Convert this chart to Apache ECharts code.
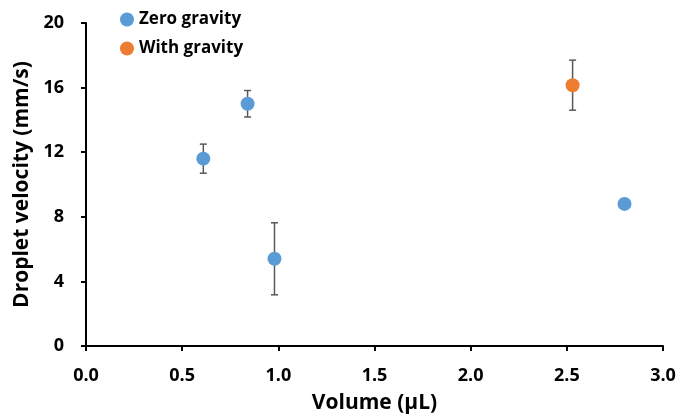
<!DOCTYPE html>
<html>
<head>
<meta charset="utf-8">
<script src="https://cdn.jsdelivr.net/npm/echarts@6/dist/echarts.min.js"></script>
<style>
  html, body { margin: 0; padding: 0; background: #fff; }
  #chart { width: 681px; height: 415px; }
</style>
</head>
<body>
<div id="chart"></div>
<script>
// zero gravity: volume (uL), velocity (mm/s), error
const zeroVolume = [0.61, 0.84, 0.98, 2.80]
const zeroVelocity = [11.6, 15.0, 5.4, 8.8]
const zeroError = [0.9, 0.82, 2.23, 0]

// with gravity
const gravVolume = [2.53]
const gravVelocity = [16.15]
const gravError = [1.55]

const xTicks = [0, 0.5, 1.0, 1.5, 2.0, 2.5, 3.0]
const yTicks = [0, 4, 8, 12, 16, 20]

const font = 'Open Sans'
const blue = '#5B9BD5'
const orange = '#ED7D31'

const toPoints = (xs, ys) => xs.map((x, i) => [x, ys[i]])
const toBars = (xs, ys, es) => xs.map((x, i) => [x, ys[i] - es[i], ys[i] + es[i]]).filter(d => d[2] > d[1])

const errorBar = (params, api) => {
  const lo = api.coord([api.value(0), api.value(1)])
  const hi = api.coord([api.value(0), api.value(2)])
  const cap = 3.5
  const style = { stroke: '#595959', lineWidth: 1.5 }
  return {
    type: 'group',
    children: [
      { type: 'line', shape: { x1: lo[0], y1: lo[1], x2: hi[0], y2: hi[1] }, style },
      { type: 'line', shape: { x1: lo[0] - cap, y1: lo[1], x2: lo[0] + cap, y2: lo[1] }, style },
      { type: 'line', shape: { x1: hi[0] - cap, y1: hi[1], x2: hi[0] + cap, y2: hi[1] }, style }
    ]
  }
}

const chart = echarts.init(document.getElementById('chart'))
chart.setOption({
  backgroundColor: '#fff',
  animation: false,
  grid: { left: 86, right: 18, top: 23, bottom: 69, outerBoundsMode: 'none', containLabel: false },
  legend: {
    orient: 'vertical',
    left: 120,
    top: 11,
    padding: 0,
    itemWidth: 14,
    itemHeight: 14,
    itemGap: 12,
    icon: 'circle',
    textStyle: { fontFamily: font, fontWeight: 'bold', fontSize: 17, color: '#000', padding: [0, 0, 0, 0] },
    data: ['Zero gravity', 'With gravity']
  },
  xAxis: {
    type: 'value',
    min: 0,
    max: 3,
    interval: 0.5,
    name: 'Volume (µL)',
    nameLocation: 'middle',
    nameGap: 47,
    nameTextStyle: { fontFamily: font, fontWeight: 'bold', fontSize: 21, color: '#000' },
    axisLine: { show: true, lineStyle: { color: '#000', width: 2 } },
    axisTick: { show: true, inside: false, length: 5, lineStyle: { color: '#000', width: 2 } },
    axisLabel: {
      margin: 21,
      fontFamily: font, fontWeight: 'bold', fontSize: 18, color: '#000',
      formatter: v => xTicks.includes(v) ? v.toFixed(1) : ''
    },
    splitLine: { show: false }
  },
  yAxis: {
    type: 'value',
    min: 0,
    max: 20,
    interval: 4,
    name: 'Droplet velocity (mm/s)',
    nameLocation: 'middle',
    nameGap: 52,
    nameTextStyle: { fontFamily: font, fontWeight: 'bold', fontSize: 21, color: '#000' },
    axisLine: { show: true, lineStyle: { color: '#000', width: 2 } },
    axisTick: { show: true, inside: false, length: 5, lineStyle: { color: '#000', width: 2 } },
    axisLabel: {
      margin: 22,
      fontFamily: font, fontWeight: 'bold', fontSize: 18, color: '#000',
      formatter: v => yTicks.includes(v) ? String(v) : ''
    },
    splitLine: { show: false }
  },
  series: [
    {
      name: 'Zero gravity',
      type: 'scatter',
      symbolSize: 14,
      itemStyle: { color: blue, opacity: 1 },
      z: 3,
      data: toPoints(zeroVolume, zeroVelocity)
    },
    {
      name: 'With gravity',
      type: 'scatter',
      symbolSize: 14,
      itemStyle: { color: orange, opacity: 1 },
      z: 3,
      data: toPoints(gravVolume, gravVelocity)
    },
    {
      type: 'custom',
      renderItem: errorBar,
      z: 2,
      data: toBars(zeroVolume, zeroVelocity, zeroError).concat(toBars(gravVolume, gravVelocity, gravError))
    }
  ]
})
</script>
</body>
</html>
